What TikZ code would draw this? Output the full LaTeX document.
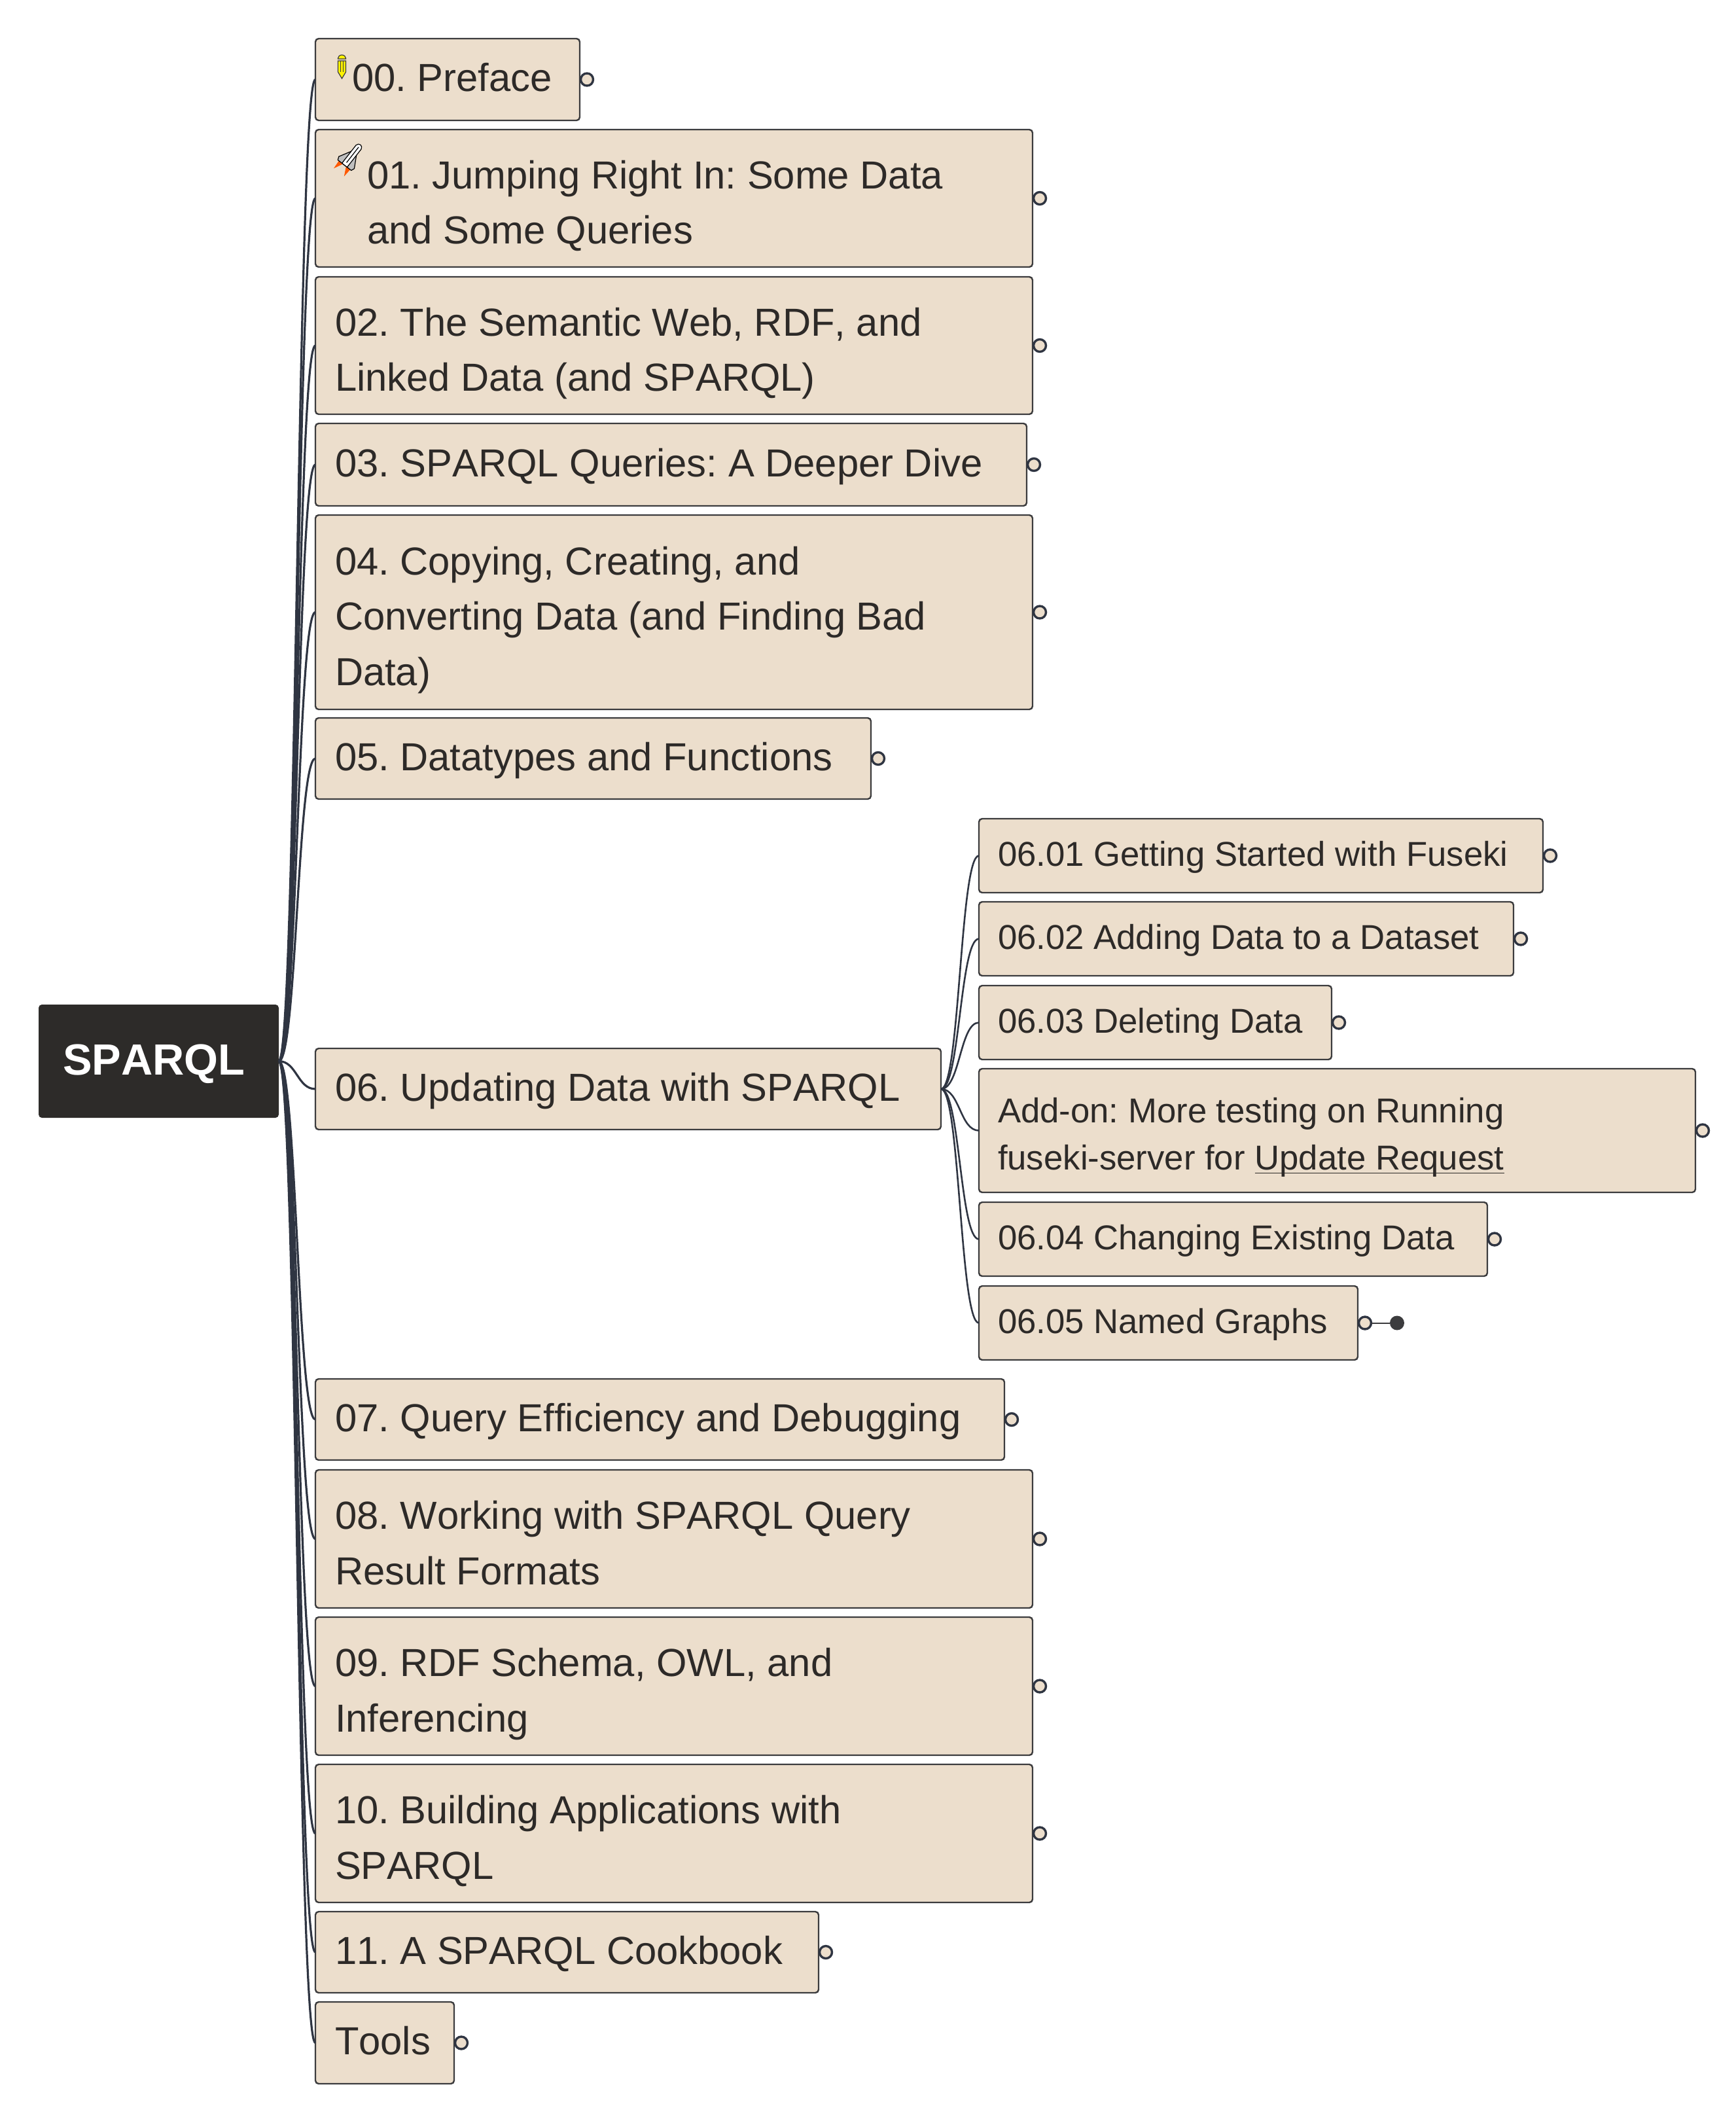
\documentclass[tikz,border=0pt]{standalone}
\usepackage{fontspec}
\setmainfont[Kerning=Off]{Liberation Sans}
\usetikzlibrary{calc}
\frenchspacing
\definecolor{boxfill}{HTML}{ECDECC}
\definecolor{boxline}{HTML}{3C3C3E}
\definecolor{inktext}{HTML}{2D2A28}
\definecolor{linkline}{HTML}{2F3542}
\definecolor{rootfill}{HTML}{2D2B29}
\tikzstyle{rootnode}=[anchor=north west,shape=rectangle,rounded corners=0.05cm,fill=rootfill,text=white,outer sep=0pt,inner xsep=0.37cm,inner ysep=0pt,align=left,font=\fontsize{19}{24}\selectfont\bfseries,execute at begin node={\rule{0pt}{19pt}},execute at end node=\strut]
\tikzstyle{basenode}=[anchor=north west,shape=rectangle,rounded corners=0.05cm,draw=boxline,line width=0.024cm,fill=boxfill,text=inktext,outer sep=0pt,inner ysep=0pt,align=left,execute at end node=\strut]
\tikzstyle{chapnode}=[basenode,inner xsep=0.30cm,font=\fontsize{17}{24.1}\selectfont,execute at begin node={\spaceskip=0pt\rule{0pt}{17.7pt}}]
\tikzstyle{chaptall}=[basenode,inner xsep=0.30cm,font=\fontsize{17}{24.1}\selectfont,execute at begin node={\spaceskip=0pt\rule{0pt}{22.8pt}}]
\tikzstyle{subnode}=[basenode,inner xsep=0.29cm,font=\fontsize{15}{20.7}\selectfont,execute at begin node={\spaceskip=0pt\rule{0pt}{15.2pt}}]
\tikzstyle{subtall}=[basenode,inner xsep=0.29cm,font=\fontsize{15}{20.7}\selectfont,execute at begin node={\spaceskip=0pt\rule{0pt}{19.8pt}}]
\tikzstyle{foldnode}=[shape=circle,draw=linkline,line width=0.034cm,fill=boxfill,minimum size=0.19cm,inner sep=0pt,outer sep=0pt]
\tikzstyle{endnode}=[shape=circle,fill=boxline,minimum size=0.22cm,inner sep=0pt,outer sep=0pt]
\tikzstyle{link}=[line width=0.032cm,color=linkline,out=0,in=180,out distance=0.275cm,in distance=0.275cm]
\tikzstyle{sublink}=[line width=0.026cm,color=linkline,out=0,in=180,out distance=0.29cm,in distance=0.29cm]

\begin{document}
\begin{tikzpicture}
	\useasboundingbox (0, 0) rectangle (26.52, -32.44);

	% Root
	\node[rootnode, text width=2.93cm, minimum height=1.73cm] (root) at (0.59, -15.35) {SPARQL};

	% Chapters
	\node[chapnode, text width=3.44cm, minimum height=1.25cm] (ch00) at (4.82, -0.59) {\hspace*{0.26cm}00. Preface};
	\node[chaptall, text width=10.36cm, minimum height=2.10cm] (ch01) at (4.82, -1.98) {\hspace*{0.49cm}01. Jumping Right In: Some Data\\\hspace*{0.49cm}and Some Queries};
	\node[chaptall, text width=10.36cm, minimum height=2.10cm] (ch02) at (4.82, -4.23) {02. The Semantic Web, RDF, and\\Linked Data (and SPARQL)};
	\node[chapnode, text width=10.27cm, minimum height=1.26cm] (ch03) at (4.82, -6.47) {03. SPARQL Queries: A Deeper Dive};
	\node[chaptall, text width=10.36cm, minimum height=2.97cm] (ch04) at (4.82, -7.87) {04. Copying, Creating, and\\Converting Data (and Finding Bad\\Data)};
	\node[chapnode, text width=7.89cm, minimum height=1.24cm] (ch05) at (4.82, -10.97) {05. Datatypes and Functions};
	\node[chapnode, text width=8.96cm, minimum height=1.24cm] (ch06) at (4.82, -16.02) {06. Updating Data with SPARQL};
	\node[chapnode, text width=9.93cm, minimum height=1.24cm] (ch07) at (4.82, -21.07) {07. Query Efficiency and Debugging};
	\node[chaptall, text width=10.36cm, minimum height=2.11cm] (ch08) at (4.82, -22.46) {08. Working with SPARQL Query\\Result Formats};
	\node[chaptall, text width=10.36cm, minimum height=2.11cm] (ch09) at (4.82, -24.71) {09. RDF Schema, OWL, and\\Inferencing};
	\node[chaptall, text width=10.36cm, minimum height=2.11cm] (ch10) at (4.82, -26.96) {10. Building Applications with\\SPARQL};
	\node[chapnode, text width=7.09cm, minimum height=1.24cm] (ch11) at (4.82, -29.21) {11. A SPARQL Cookbook};
	\node[chapnode, text width=1.52cm, minimum height=1.25cm] (tools) at (4.82, -30.59) {Tools};

	% Sections of chapter 06
	\node[subnode, text width=8.04cm, minimum height=1.13cm] (s01) at (14.96, -12.51) {06.01 Getting Started with Fuseki};
	\node[subnode, text width=7.59cm, minimum height=1.13cm] (s02) at (14.96, -13.78) {06.02 Adding Data to a Dataset};
	\node[subnode, text width=4.81cm, minimum height=1.13cm] (s03) at (14.96, -15.06) {06.03 Deleting Data};
	\node[subtall, text width=10.37cm, minimum height=1.89cm] (addon) at (14.96, -16.33) {Add-on: More testing on Running\\fuseki-server for \underline{\smash{Update Request}}};
	\node[subnode, text width=7.19cm, minimum height=1.13cm] (s04) at (14.96, -18.37) {06.04 Changing Existing Data};
	\node[subnode, text width=5.21cm, minimum height=1.13cm] (s05) at (14.96, -19.65) {06.05 Named Graphs};

	% Fold marks
	\node[foldnode] (ch00f) at ($(ch00.east) + (0.11, 0)$) {};
	\node[foldnode] (ch01f) at ($(ch01.east) + (0.11, 0)$) {};
	\node[foldnode] (ch02f) at ($(ch02.east) + (0.11, 0)$) {};
	\node[foldnode] (ch03f) at ($(ch03.east) + (0.11, 0)$) {};
	\node[foldnode] (ch04f) at ($(ch04.east) + (0.11, 0)$) {};
	\node[foldnode] (ch05f) at ($(ch05.east) + (0.11, 0)$) {};
	\node[foldnode] (ch07f) at ($(ch07.east) + (0.11, 0)$) {};
	\node[foldnode] (ch08f) at ($(ch08.east) + (0.11, 0)$) {};
	\node[foldnode] (ch09f) at ($(ch09.east) + (0.11, 0)$) {};
	\node[foldnode] (ch10f) at ($(ch10.east) + (0.11, 0)$) {};
	\node[foldnode] (ch11f) at ($(ch11.east) + (0.11, 0)$) {};
	\node[foldnode] (toolsf) at ($(tools.east) + (0.11, 0)$) {};
	\node[foldnode] (s01f) at ($(s01.east) + (0.11, 0)$) {};
	\node[foldnode] (s02f) at ($(s02.east) + (0.11, 0)$) {};
	\node[foldnode] (s03f) at ($(s03.east) + (0.11, 0)$) {};
	\node[foldnode] (addonf) at ($(addon.east) + (0.11, 0)$) {};
	\node[foldnode] (s04f) at ($(s04.east) + (0.11, 0)$) {};
	\node[foldnode] (s05f) at ($(s05.east) + (0.11, 0)$) {};
	\node[endnode] (s05end) at ($(s05f) + (0.49, 0)$) {};
	\draw[line width=0.02cm, color=boxline] (s05f) -- (s05end);

	% Links from the root
	\draw[link] (root.east) to (ch00.west);
	\draw[link] (root.east) to (ch01.west);
	\draw[link] (root.east) to (ch02.west);
	\draw[link] (root.east) to (ch03.west);
	\draw[link] (root.east) to (ch04.west);
	\draw[link] (root.east) to (ch05.west);
	\draw[link] (root.east) to (ch06.west);
	\draw[link] (root.east) to (ch07.west);
	\draw[link] (root.east) to (ch08.west);
	\draw[link] (root.east) to (ch09.west);
	\draw[link] (root.east) to (ch10.west);
	\draw[link] (root.east) to (ch11.west);
	\draw[link] (root.east) to (tools.west);

	% Links from chapter 06
	\draw[sublink] (ch06.east) to (s01.west);
	\draw[sublink] (ch06.east) to (s02.west);
	\draw[sublink] (ch06.east) to (s03.west);
	\draw[sublink] (ch06.east) to (addon.west);
	\draw[sublink] (ch06.east) to (s04.west);
	\draw[sublink] (ch06.east) to (s05.west);

	% Pencil
	\begin{scope}[shift={(5.225, -1.02)}, line width=0.012cm, draw=boxline]
	\filldraw[fill=yellow] (-0.06, 0.12) -- (-0.06, 0.13) arc (180:0:0.06 and 0.05) -- (0.06, 0.12) -- cycle;
	\filldraw[fill=yellow] (-0.06, 0.09) -- (0.06, 0.09) -- (0.06, -0.08) -- (0, -0.18) -- (-0.06, -0.08) -- cycle;
	\draw (-0.02, 0.09) -- (-0.02, -0.08) (0.02, 0.09) -- (0.02, -0.08);
	\end{scope}

	% Rocket
	\begin{scope}[shift={(5.37, -2.39)}, rotate=-38, line width=0.012cm, draw=black]
	\fill[orange!70!red] (-0.11, -0.17) -- (-0.10, -0.31) -- (-0.03, -0.17) -- cycle;
	\fill[orange!70!red] (0.11, -0.17) -- (0.10, -0.31) -- (0.03, -0.17) -- cycle;
	\filldraw[fill=black!25] (-0.05, 0.06) -- (-0.15, -0.12) -- (-0.13, -0.17) -- (0.13, -0.17) -- (0.15, -0.12) -- (0.05, 0.06) -- cycle;
	\filldraw[fill=white] (-0.05, -0.17) -- (-0.05, 0.18) .. controls (-0.04, 0.24) and (0.04, 0.24) .. (0.05, 0.18) -- (0.05, -0.17) -- cycle;
	\draw (0, 0.18) -- (0, -0.12);
	\end{scope}

\end{tikzpicture}
\end{document}
